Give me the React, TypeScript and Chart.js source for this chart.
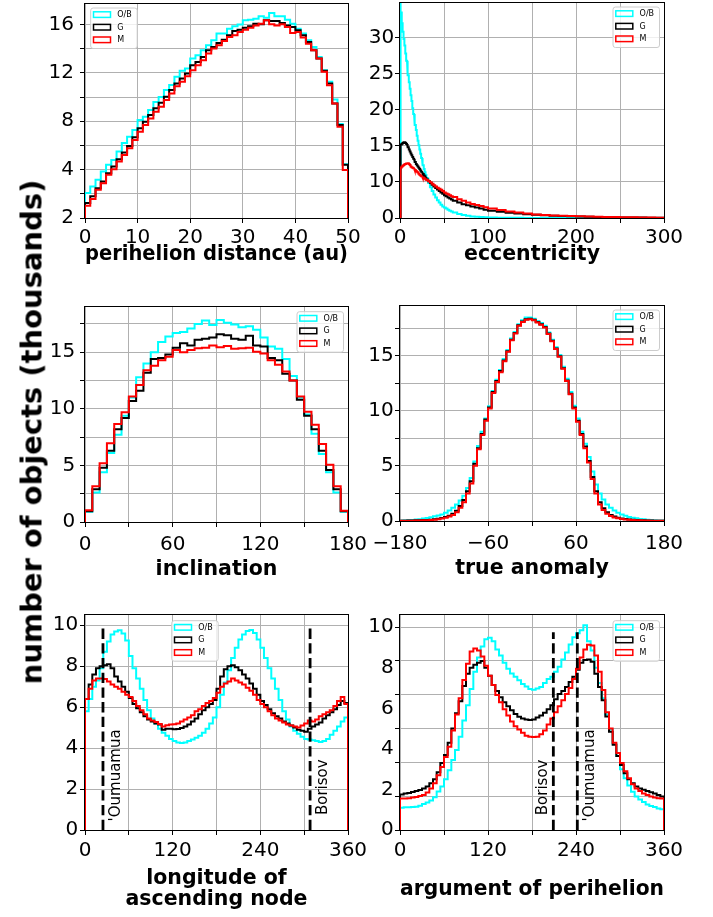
import React, { useEffect, useRef } from 'react';
import { Chart, registerables } from 'chart.js';

Chart.register(...registerables);

const FONT = "'DejaVu Sans', 'Liberation Sans', sans-serif";

// ---------------- series ----------------
const SERIES_LABELS = ['O/B', 'G', 'M'];
const SERIES_COLORS = ['#00ffff', '#000000', '#ff0000'];

// ---------------- perihelion distance (au), 1 au bins 0..50 ----------------
const PERI_BIN = { start: 0, width: 1, count: 50 };
const PERI_OB = [2.06,2.6,3.16,3.85,4.4,4.8,5.5,6.2,6.73,7.28,8.1,8.38,8.93,9.6,10.0,10.58,11.0,11.68,12.17,12.36,13.2,13.46,13.87,14.29,14.7,15.25,15.25,15.66,15.85,16.0,16.35,16.4,16.48,16.68,16.57,16.95,16.68,16.68,16.4,16.07,15.66,15.25,14.7,14.15,13.32,12.23,11.26,9.8,7.77,4.45];
const PERI_G = [1.24,1.79,2.47,3.02,3.71,4.26,4.86,5.41,5.96,6.68,7.42,7.97,8.52,9.07,9.53,10.03,10.58,11.13,11.54,11.95,12.64,12.91,13.32,13.87,14.15,14.48,14.75,15.11,15.47,15.58,15.74,15.85,16.07,16.02,16.35,16.29,16.29,16.13,15.93,15.8,15.52,15.11,14.56,13.87,13.19,12.17,11.13,9.48,7.69,4.4];
const PERI_M = [1.02,1.57,2.34,2.88,3.57,4.04,4.67,5.22,5.77,6.46,7.14,7.69,8.24,8.79,9.2,9.75,10.3,10.9,11.26,11.73,12.23,12.64,13.05,13.6,14.01,14.29,14.64,14.97,15.11,15.38,15.58,15.74,15.93,16.07,16.35,16.02,15.93,16.02,15.8,15.3,15.38,14.92,14.42,13.87,13.19,12.09,10.99,9.48,7.55,3.98];
const PERI_X_TICKS = [0, 10, 20, 30, 40, 50];
const PERI_X_LABELS: [number, string][] = [[0,'0'],[10,'10'],[20,'20'],[30,'30'],[40,'40'],[50,'50']];
const PERI_Y_GRID = [0, 2, 4, 6, 8, 10, 12, 14, 16];
const PERI_Y_LABELS: [number, string][] = [[0,'2'],[4,'4'],[8,'8'],[12,'12'],[16,'16']];

// ---------------- eccentricity (variable-width bins) ----------------
const ECC_EDGES = [
  0,1,2,3,4,5,6,7,8,9,10,11,12,13,14,15,16,17,18,19,20,21,22,23,24,25,26,27,28,29,30,
  32,34,36,38,40,42,44,46,48,50,52,54,56,58,60,
  65,70,75,80,85,90,95,100,
  110,120,130,140,150,160,170,180,190,200,210,220,230,240,250,260,270,280,290,300,
];
const ECC_OB = [
  36,33.5,32.0,30.8,29.8,28.9,27.8,26.8,25.7,24.8,23.8,22.9,22.0,21.2,20.2,19.4,18.6,17.9,17.2,16.4,15.7,15.1,14.5,13.9,13.3,12.8,12.3,11.8,11.35,10.95,
  10.5,9.85,9.25,8.75,8.25,7.85,7.45,7.15,6.85,6.6,6.45,6.3,6.15,6.0,5.9,
  5.75,5.55,5.4,5.3,5.22,5.17,5.13,5.1,
  5.07,5.05,5.03,5.02,5.015,5.01,5.01,5.005,5.005,5.0,5,5,5,5,5,5,5,5,5,5,
];
const ECC_G = [
  15.1,15.2,15.3,15.4,15.5,15.5,15.4,15.25,15.05,14.8,14.5,14.2,13.95,13.7,13.45,13.2,12.95,12.75,12.5,12.3,12.15,11.95,11.8,11.6,11.4,11.25,11.1,10.9,10.75,10.55,
  10.35,10.1,9.85,9.6,9.35,9.15,8.95,8.75,8.55,8.35,8.15,8.0,7.85,7.7,7.55,
  7.4,7.15,6.9,6.75,6.6,6.45,6.3,6.15,
  6.0,5.85,5.72,5.62,5.52,5.45,5.38,5.32,5.27,5.23,5.2,5.17,5.14,5.12,5.1,5.08,5.07,5.06,5.05,5.04,
];
const ECC_M = [
  11.8,12.0,12.15,12.25,12.35,12.45,12.5,12.55,12.6,12.6,12.5,12.35,12.15,12.05,11.95,11.9,11.8,11.65,11.5,11.4,11.3,11.15,11.0,10.9,10.8,10.7,10.6,10.5,10.45,10.35,
  10.25,10.1,9.95,9.75,9.55,9.35,9.2,9.05,8.9,8.75,8.55,8.4,8.3,8.15,8.0,
  7.9,7.6,7.4,7.15,6.95,6.8,6.65,6.5,
  6.3,6.1,5.9,5.75,5.62,5.5,5.42,5.36,5.3,5.26,5.23,5.2,5.17,5.15,5.13,5.11,5.09,5.07,5.06,5.05,
];
const ECC_X_TICKS = [0, 50, 100, 150, 200, 250, 300];
const ECC_X_LABELS: [number, string][] = [[0,'0'],[100,'100'],[200,'200'],[300,'300']];
const ECC_Y_GRID = [5, 10, 15, 20, 25, 30];
const ECC_Y_LABELS: [number, string][] = [[5,'0'],[10,'10'],[15,'15'],[20,'20'],[25,'25'],[30,'30']];

// ---------------- inclination, 5 deg bins ----------------
const INC_BIN = { start: 0, width: 5, count: 36 };
const INC_OB = [0.9,2.6,4.4,6.1,7.7,9.4,11.0,12.8,14.0,15.0,15.9,16.4,16.7,16.8,17.1,17.5,17.8,17.4,17.85,17.6,17.45,17.2,17.3,17.0,16.3,15.5,15.3,14.4,12.9,11.0,9.5,7.8,6.0,4.4,2.6,0.9];
const INC_G = [0.95,2.9,4.8,6.3,8.2,9.2,10.7,11.6,13.2,14.4,14.5,14.8,15.4,15.8,15.6,16.1,16.2,16.3,16.6,16.5,16.2,16.1,16.45,15.6,15.5,14.5,14.3,13.1,12.5,10.8,9.4,8.2,6.3,4.6,2.9,0.95];
const INC_M = [1.03,3.15,5.2,6.97,8.65,9.7,11.1,12.1,13.4,13.8,14.3,14.6,15.2,15.0,15.2,15.35,15.4,15.6,15.45,15.55,15.3,15.35,15.4,15.05,14.9,14.3,13.9,13.3,12.5,11.1,9.75,8.6,6.9,5.05,3.15,1.0];
const INC_X_TICKS = [0, 30, 60, 90, 120, 150, 180];
const INC_X_LABELS: [number, string][] = [[0,'0'],[60,'60'],[120,'120'],[180,'180']];
const QUARTER_Y_GRID = [0, 2.5, 5, 7.5, 10, 12.5, 15, 17.5];
const QUARTER_Y_LABELS: [number, string][] = [[0,'0'],[5,'5'],[10,'10'],[15,'15']];

// ---------------- true anomaly, 5 deg bins ----------------
const TA_BIN = { start: -180, width: 5, count: 72 };
const TA_OB = [0.05,0.06,0.08,0.1,0.13,0.17,0.22,0.28,0.34,0.42,0.5,0.6,0.75,0.95,1.2,1.5,1.85,2.3,3.0,3.9,5.4,6.8,8.1,9.3,10.4,11.8,12.8,13.7,14.7,15.5,16.55,17.15,17.85,18.2,18.45,18.45,18.35,18.15,17.95,17.7,17.1,16.45,15.75,15.05,14.0,12.9,11.7,10.45,9.3,8.1,7.0,5.8,4.5,3.3,2.5,1.95,1.5,1.2,0.95,0.75,0.6,0.47,0.37,0.3,0.24,0.19,0.15,0.12,0.09,0.07,0.05,0.04];
const TA_G = [0.03,0.03,0.04,0.05,0.06,0.07,0.08,0.1,0.12,0.15,0.2,0.27,0.36,0.48,0.65,0.92,1.35,1.9,2.7,3.6,5.2,6.6,7.9,9.2,10.3,11.7,12.7,13.6,14.55,15.4,16.45,17.05,17.75,18.1,18.3,18.35,18.25,18.05,17.85,17.6,17.0,16.35,15.65,14.95,13.85,12.75,11.55,10.3,9.1,7.9,6.75,5.45,4.0,2.7,1.7,1.15,0.8,0.55,0.4,0.3,0.23,0.18,0.14,0.11,0.09,0.07,0.06,0.05,0.04,0.03,0.03,0.02];
const TA_M = [0.02,0.02,0.03,0.03,0.04,0.05,0.06,0.07,0.09,0.12,0.16,0.22,0.3,0.4,0.55,0.8,1.2,1.7,2.5,3.4,5.0,6.5,7.8,9.1,10.2,11.6,12.6,13.5,14.5,15.35,16.4,17.0,17.7,18.05,18.25,18.3,18.2,18.0,17.8,17.55,16.95,16.3,15.6,14.9,13.8,12.7,11.5,10.2,9.0,7.8,6.6,5.3,3.8,2.5,1.5,1.0,0.65,0.45,0.32,0.24,0.18,0.14,0.11,0.09,0.07,0.06,0.05,0.04,0.03,0.03,0.02,0.02];
const TA_X_TICKS = [-180, -120, -60, 0, 60, 120, 180];
const TA_X_LABELS: [number, string][] = [[-180,'\u2212180'],[-60,'\u221260'],[60,'60'],[180,'180']];

// ---------------- longitude of ascending node, 5 deg bins ----------------
const LON_BIN = { start: 0, width: 5, count: 72 };
const LON_OB = [5.8,6.4,7.0,7.3,7.9,8.7,9.2,9.55,9.7,9.75,9.6,9.25,8.5,7.9,7.4,6.9,6.35,5.85,5.45,5.2,4.95,4.75,4.6,4.45,4.35,4.27,4.25,4.27,4.35,4.42,4.5,4.6,4.75,4.95,5.2,5.5,6.0,6.6,7.2,7.8,8.4,8.9,9.3,9.55,9.72,9.77,9.62,9.3,8.9,8.4,7.9,7.4,6.9,6.35,5.8,5.4,5.05,4.85,4.7,4.55,4.45,4.42,4.38,4.35,4.3,4.35,4.45,4.65,4.85,5.05,5.3,5.5];
const LON_G = [6.4,7.1,7.6,7.9,8.0,8.05,8.1,7.9,7.5,7.25,7.0,6.75,6.45,6.15,5.95,5.75,5.55,5.4,5.3,5.2,5.15,4.9,4.95,4.95,4.92,4.93,4.98,5.05,5.15,5.3,5.45,5.65,5.85,6.0,6.15,6.35,6.9,7.5,7.85,8.0,8.05,7.95,7.8,7.6,7.4,7.15,6.9,6.6,6.3,6.1,5.9,5.7,5.55,5.45,5.3,5.2,5.1,5.0,4.9,4.85,4.8,4.95,5.05,5.15,5.25,5.45,5.6,5.75,5.9,6.1,6.3,6.2];
const LON_M = [6.4,6.9,7.3,7.4,7.4,7.38,7.25,7.1,7.0,6.9,6.75,6.6,6.5,6.3,6.05,5.85,5.65,5.45,5.35,5.28,5.18,5.05,5.12,5.15,5.17,5.2,5.3,5.4,5.5,5.6,5.8,5.9,6.05,6.2,6.3,6.45,6.7,7.0,7.15,7.25,7.4,7.3,7.2,7.1,6.95,6.8,6.6,6.35,6.15,6.0,5.8,5.6,5.45,5.35,5.25,5.15,5.1,5.05,5.0,5.1,5.2,5.35,5.3,5.4,5.55,5.65,5.75,5.85,6.05,6.3,6.5,6.15];

// ---------------- argument of perihelion, 5 deg bins ----------------
const ARG_BIN = { start: 0, width: 5, count: 72 };
const ARG_OB = [1.1,1.12,1.12,1.13,1.15,1.2,1.28,1.35,1.45,1.62,1.9,2.15,2.5,2.95,3.45,3.95,4.6,5.4,6.15,6.95,7.8,8.5,9.05,9.4,9.48,9.3,8.9,8.6,8.25,7.95,7.72,7.55,7.38,7.2,7.08,6.95,6.92,6.98,7.05,7.25,7.45,7.55,7.8,8.05,8.4,8.75,9.15,9.5,9.7,9.85,10.1,9.3,8.85,8.0,7.25,6.5,5.7,4.95,4.25,3.65,3.0,2.55,2.2,1.88,1.65,1.5,1.38,1.26,1.18,1.13,1.06,1.02];
const ARG_G = [1.75,1.8,1.83,1.87,1.92,1.97,2.05,2.15,2.3,2.5,2.85,3.3,3.7,4.3,5.0,5.75,6.35,7.1,7.7,8.0,8.15,8.25,8.33,8.0,7.6,7.15,6.85,6.55,6.3,6.1,5.9,5.72,5.58,5.5,5.45,5.42,5.45,5.55,5.65,5.78,5.95,6.15,6.45,6.7,6.85,7.05,7.3,7.55,7.9,8.25,8.38,8.4,8.3,7.7,7.05,6.4,5.6,4.85,4.2,3.65,3.2,2.8,2.5,2.3,2.15,2.05,1.98,1.92,1.86,1.8,1.72,1.65];
const ARG_M = [1.55,1.55,1.57,1.6,1.63,1.68,1.73,1.85,2.05,2.3,2.7,3.1,3.6,4.1,4.9,5.7,6.5,7.4,8.2,8.8,8.95,8.85,8.55,8.1,7.6,7.15,6.65,6.3,5.95,5.65,5.35,5.12,4.95,4.8,4.65,4.6,4.58,4.6,4.72,4.9,5.2,5.5,5.8,6.1,6.4,6.7,7.0,7.45,7.95,8.5,8.9,9.13,9.1,8.6,7.8,6.9,5.8,5.0,4.3,3.8,3.3,2.9,2.55,2.25,2.05,1.92,1.8,1.72,1.65,1.6,1.56,1.55];

const ANGLE_X_TICKS = [0, 60, 120, 180, 240, 300, 360];
const ANGLE_X_LABELS: [number, string][] = [[0,'0'],[120,'120'],[240,'240'],[360,'360']];
const LON_Y_GRID = [0, 2, 4, 6, 8, 10];
const EVEN_Y_LABELS: [number, string][] = [[0,'0'],[2,'2'],[4,'4'],[6,'6'],[8,'8'],[10,'10']];
const ARG_Y_GRID = [0, 10 / 6, 20 / 6, 5, 40 / 6, 50 / 6, 10];

// interstellar objects marked in the bottom panels (angles in degrees)
const LON_MARKERS = [
  { name: "'Oumuamua", x: 24.6, top: 10.0, side: 'right', y0: 0.42 },
  { name: 'Borisov', x: 308.1, top: 10.0, side: 'right', y0: 0.73 },
];
const ARG_MARKERS = [
  { name: 'Borisov', x: 209.1, top: 9.75, side: 'left', y0: 0.73 },
  { name: "'Oumuamua", x: 241.8, top: 9.75, side: 'right', y0: 0.42 },
];

// ---------------- layout ----------------
const Y_AXIS_W = 80;
const PAD_T = 15;
const PAD_R = 30;
const X_AXIS_H = 100;
const LEG_W = 46.5;
const LEG_H = 40.5;
const MARK_TXT_RIGHT = 16.8;
const MARK_TXT_LEFT = 6.2;

function binEdges(b: { start: number; width: number; count: number }) {
  const e: number[] = [];
  for (let i = 0; i <= b.count; i++) e.push(b.start + i * b.width);
  return e;
}

function stepPoints(edges: number[], vals: number[], base: number) {
  const pts: { x: number; y: number }[] = [{ x: edges[0], y: base }];
  for (let i = 0; i < vals.length; i++) {
    pts.push({ x: edges[i], y: vals[i] });
    pts.push({ x: edges[i + 1], y: vals[i] });
  }
  pts.push({ x: edges[edges.length - 1], y: base });
  return pts;
}

const PANELS: any[] = [
  {
    key: 'peri', area: { l: 85, t: 3, w: 263, h: 215 },
    edges: binEdges(PERI_BIN), series: [PERI_OB, PERI_G, PERI_M], base: 0,
    x: { min: 0, max: 50, ticks: PERI_X_TICKS, labels: PERI_X_LABELS, pad: 4.7 },
    y: { min: 0, max: 17.7, grid: PERI_Y_GRID, labels: PERI_Y_LABELS, pad: 6 },
    title: 'perihelion distance (au)', titleBaseline: 262,
    legend: { fromRight: false, dx: 5.7, dy: 4 },
  },
  {
    key: 'ecc', area: { l: 400, t: 3, w: 264, h: 215 },
    edges: ECC_EDGES, series: [ECC_OB, ECC_G, ECC_M], base: 0,
    x: { min: 0, max: 300, ticks: ECC_X_TICKS, labels: ECC_X_LABELS, pad: 4.7 },
    y: { min: 5, max: 34.8, grid: ECC_Y_GRID, labels: ECC_Y_LABELS, pad: 0.7 },
    title: 'eccentricity', titleBaseline: 262,
    legend: { fromRight: true, dx: 4.5, dy: 4 },
  },
  {
    key: 'inc', area: { l: 85, t: 307, w: 263, h: 215 },
    edges: binEdges(INC_BIN), series: [INC_OB, INC_G, INC_M], base: 0,
    x: { min: 0, max: 180, ticks: INC_X_TICKS, labels: INC_X_LABELS, pad: 8.2 },
    y: { min: 0, max: 19.0, grid: QUARTER_Y_GRID, labels: QUARTER_Y_LABELS, pad: 4.7 },
    title: 'inclination', titleBaseline: 576.5,
    legend: { fromRight: true, dx: 4.5, dy: 4.7 },
  },
  {
    key: 'ta', area: { l: 400, t: 306, w: 264, h: 215 },
    edges: binEdges(TA_BIN), series: [TA_OB, TA_G, TA_M], base: 0,
    x: { min: -180, max: 180, ticks: TA_X_TICKS, labels: TA_X_LABELS, pad: 8.2 },
    y: { min: 0, max: 19.5, grid: QUARTER_Y_GRID, labels: QUARTER_Y_LABELS, pad: 1.3 },
    title: 'true anomaly', titleBaseline: 575.5,
    legend: { fromRight: true, dx: 4.5, dy: 4 },
  },
  {
    key: 'lon', area: { l: 85, t: 615, w: 263, h: 215 },
    edges: binEdges(LON_BIN), series: [LON_OB, LON_G, LON_M], base: 0,
    x: { min: 0, max: 360, ticks: ANGLE_X_TICKS, labels: ANGLE_X_LABELS, pad: 5.7 },
    y: { min: 0, max: 10.5, grid: LON_Y_GRID, labels: EVEN_Y_LABELS, pad: 1.7 },
    title: ['longitude of', 'ascending node'], titleBaseline: 886,
    legend: { fromRight: false, dx: 86.7, dy: 5.7 },
    markers: LON_MARKERS,
  },
  {
    key: 'arg', area: { l: 400, t: 615, w: 264, h: 215 },
    edges: binEdges(ARG_BIN), series: [ARG_OB, ARG_G, ARG_M], base: 0,
    x: { min: 0, max: 360, ticks: ANGLE_X_TICKS, labels: ANGLE_X_LABELS, pad: 5.7 },
    y: { min: 0, max: 10.6, grid: ARG_Y_GRID, labels: EVEN_Y_LABELS, pad: 1.3 },
    title: 'argument of perihelion', titleBaseline: 897,
    legend: { fromRight: true, dx: 4.5, dy: 5.7 },
    markers: ARG_MARKERS,
  },
];

const near = (a: number, b: number) => Math.abs(a - b) < 1e-6;

const mplPlugin = {
  id: 'mpl',
  afterDatasetsDraw(chart: any, _args: any, opts: any) {
    const { ctx, chartArea: a, scales } = chart;
    ctx.save();
    // frame (all four spines)
    ctx.strokeStyle = '#000';
    ctx.lineWidth = 1;
    ctx.strokeRect(a.left - 0.5, a.top - 0.5, a.right - a.left + 1, a.bottom - a.top + 1);

    // marker labels
    for (const m of opts.markers || []) {
      const px = scales.x.getPixelForValue(m.x);
      const py = scales.y.getPixelForValue(m.y0);
      ctx.save();
      ctx.translate(m.side === 'right' ? px + MARK_TXT_RIGHT : px - MARK_TXT_LEFT, py);
      ctx.rotate(-Math.PI / 2);
      ctx.font = `15px ${FONT}`;
      ctx.fillStyle = '#000';
      ctx.textAlign = 'left';
      ctx.textBaseline = 'alphabetic';
      ctx.fillText(m.name, 0, 0);
      ctx.restore();
    }

    // legend box
    const L = opts.legend;
    if (L) {
      const bx = L.fromRight ? a.right - L.dx - LEG_W : a.left + L.dx;
      const by = a.top + L.dy;
      const r = 2.5;
      ctx.beginPath();
      ctx.moveTo(bx + r, by);
      ctx.lineTo(bx + LEG_W - r, by);
      ctx.quadraticCurveTo(bx + LEG_W, by, bx + LEG_W, by + r);
      ctx.lineTo(bx + LEG_W, by + LEG_H - r);
      ctx.quadraticCurveTo(bx + LEG_W, by + LEG_H, bx + LEG_W - r, by + LEG_H);
      ctx.lineTo(bx + r, by + LEG_H);
      ctx.quadraticCurveTo(bx, by + LEG_H, bx, by + LEG_H - r);
      ctx.lineTo(bx, by + r);
      ctx.quadraticCurveTo(bx, by, bx + r, by);
      ctx.closePath();
      ctx.fillStyle = 'rgba(255,255,255,0.8)';
      ctx.fill();
      ctx.strokeStyle = '#cccccc';
      ctx.lineWidth = 1;
      ctx.stroke();
      ctx.font = `8px ${FONT}`;
      ctx.textAlign = 'left';
      ctx.textBaseline = 'middle';
      SERIES_LABELS.forEach((lab, i) => {
        const cy = by + 6.6 + i * 12.6;
        ctx.strokeStyle = SERIES_COLORS[i];
        ctx.lineWidth = 1.5;
        ctx.strokeRect(bx + 2.8, cy - 2.8, 17, 5.6);
        ctx.fillStyle = '#000';
        ctx.fillText(lab, bx + 26.6, cy + 0.5);
      });
    }
    ctx.restore();
  },
};

function buildConfig(p: any) {
  const { t, h } = p.area;
  const canvasTopAbs = t - PAD_T;
  const canvasH = h + PAD_T + X_AXIS_H;
  const titleFont = { family: FONT, size: 20.5, weight: 'bold' as const, lineHeight: 1.025 };
  const lhPx = 20.5 * 1.025;
  const nLines = Array.isArray(p.title) ? p.title.length : 1;
  const middle1 = p.titleBaseline - canvasTopAbs - 0.346 * 20.5;
  const titlePadB = canvasH - lhPx / 2 - (nLines - 1) * lhPx - middle1;

  const xLabelMap = new Map<number, string>(p.x.labels);
  const yLabels: [number, string][] = p.y.labels;
  const yGrid: number[] = p.y.grid;
  const yTickVals = [...yGrid];
  yLabels.forEach(([v]) => { if (!yTickVals.some((g) => near(g, v))) yTickVals.push(v); });
  yTickVals.sort((a, b) => a - b);
  const isGrid = (v: number) => yGrid.some((g) => near(g, v));
  const yLabelFor = (v: number) => {
    const f = yLabels.find(([k]) => near(k, v));
    return f ? f[1] : '';
  };

  const datasets: any[] = p.series.map((vals: number[], i: number) => ({
    label: SERIES_LABELS[i],
    data: stepPoints(p.edges, vals, p.base),
    showLine: true,
    borderColor: SERIES_COLORS[i],
    backgroundColor: SERIES_COLORS[i],
    borderWidth: 2,
    pointRadius: 0,
    pointHoverRadius: 0,
    fill: false,
    tension: 0,
    order: 3 - i,
  }));
  (p.markers || []).forEach((m: any) => {
    datasets.push({
      label: m.name,
      data: [{ x: m.x, y: 0 }, { x: m.x, y: m.top }],
      showLine: true,
      borderColor: '#000',
      borderWidth: 2.8,
      borderDash: [10.3, 4.4],
      pointRadius: 0,
      pointHoverRadius: 0,
      fill: false,
      order: 0,
    });
  });

  const tickFont = { family: FONT, size: 20, lineHeight: 1 };

  return {
    type: 'scatter',
    data: { datasets },
    options: {
      animation: false,
      responsive: false,
      maintainAspectRatio: false,
      events: [],
      layout: { padding: { left: 0, top: PAD_T, right: PAD_R, bottom: 0 } },
      plugins: {
        legend: { display: false },
        tooltip: { enabled: false },
        mpl: { legend: p.legend, markers: p.markers || [] },
      },
      scales: {
        x: {
          type: 'linear',
          position: 'bottom',
          min: p.x.min,
          max: p.x.max,
          afterBuildTicks: (s: any) => { s.ticks = p.x.ticks.map((v: number) => ({ value: v })); },
          afterFit: (s: any) => { s.height = X_AXIS_H; },
          ticks: {
            autoSkip: false,
            maxRotation: 0,
            minRotation: 0,
            padding: p.x.pad,
            color: '#000',
            font: tickFont,
            callback: (v: any) => (xLabelMap.has(v) ? xLabelMap.get(v) : ''),
          },
          grid: { color: '#b0b0b0', lineWidth: 1, drawTicks: true, tickLength: 5, tickColor: '#000', tickWidth: 1 },
          border: { display: false },
          title: {
            display: true,
            text: p.title,
            color: '#000',
            font: titleFont,
            padding: { top: 0, bottom: titlePadB },
          },
        },
        y: {
          type: 'linear',
          position: 'left',
          min: p.y.min,
          max: p.y.max,
          afterBuildTicks: (s: any) => { s.ticks = yTickVals.map((v) => ({ value: v })); },
          afterFit: (s: any) => { s.width = Y_AXIS_W; },
          ticks: {
            autoSkip: false,
            padding: p.y.pad,
            color: '#000',
            font: tickFont,
            callback: (v: any) => yLabelFor(v),
          },
          grid: {
            color: (c: any) => (c.tick && isGrid(c.tick.value) ? '#b0b0b0' : 'rgba(0,0,0,0)'),
            tickColor: (c: any) => (c.tick && isGrid(c.tick.value) ? '#000' : 'rgba(0,0,0,0)'),
            lineWidth: 1,
            drawTicks: true,
            tickLength: 5,
            tickWidth: 1,
          },
          border: { display: false },
        },
      },
    },
    plugins: [mplPlugin],
  };
}

function Panel({ spec }: { spec: any }) {
  const ref = useRef<HTMLCanvasElement | null>(null);
  useEffect(() => {
    if (!ref.current) return;
    const chart = new Chart(ref.current, buildConfig(spec) as any);
    return () => chart.destroy();
  }, [spec]);
  const { l, t, w, h } = spec.area;
  const cw = w + Y_AXIS_W + PAD_R;
  const ch = h + PAD_T + X_AXIS_H;
  return (
    <canvas
      ref={ref}
      width={cw}
      height={ch}
      style={{ position: 'absolute', left: l - Y_AXIS_W, top: t - PAD_T, width: cw, height: ch }}
    />
  );
}

export default function App() {
  return (
    <div
      style={{
        position: 'absolute', left: 0, top: 0, width: 713, height: 917,
        overflow: 'hidden', background: '#ffffff',
      }}
    >
      {PANELS.map((p) => (
        <Panel key={p.key} spec={p} />
      ))}
      <div
        style={{
          position: 'absolute', left: 32, top: 432,
          transform: 'translate(-50%, -50%) rotate(-90deg)',
          whiteSpace: 'nowrap',
          fontFamily: FONT, fontSize: 29, fontWeight: 'bold', lineHeight: 1,
          color: '#000',
        }}
      >
        number of objects (thousands)
      </div>
    </div>
  );
}
